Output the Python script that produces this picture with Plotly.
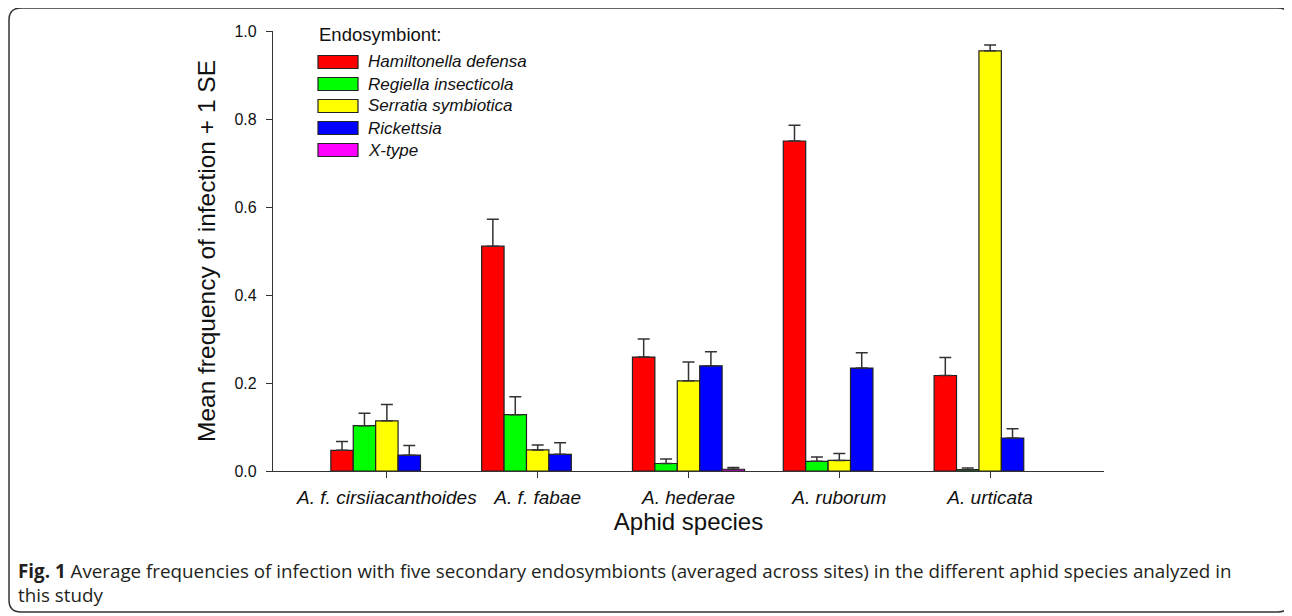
import plotly.graph_objects as go

species = ["A. f. cirsiiacanthoides", "A. f. fabae", "A. hederae", "A. ruborum", "A. urticata"]
symbionts = ["Hamiltonella defensa", "Regiella insecticola", "Serratia symbiotica", "Rickettsia", "X-type"]
colors = ["#FF0000", "#00FF00", "#FFFF00", "#0000FF", "#FF00FF"]

hamiltonella = [0.047, 0.511, 0.259, 0.750, 0.217]
hamiltonella_se = [0.020, 0.061, 0.041, 0.036, 0.041]
regiella = [0.103, 0.128, 0.017, 0.022, 0.003]
regiella_se = [0.028, 0.041, 0.010, 0.010, 0.004]
serratia = [0.114, 0.048, 0.205, 0.024, 0.955]
serratia_se = [0.037, 0.011, 0.043, 0.016, 0.013]
rickettsia = [0.036, 0.038, 0.239, 0.234, 0.075]
rickettsia_se = [0.022, 0.026, 0.032, 0.035, 0.021]
xtype = [None, None, 0.004, None, None]
xtype_se = [None, None, 0.004, None, None]

series = [hamiltonella, regiella, serratia, rickettsia, xtype]
errors = [hamiltonella_se, regiella_se, serratia_se, rickettsia_se, xtype_se]

# page offset of the figure (browser body margin) and target pixel layout
OFF = 8
L, R, T, B = 273, 1104, 31, 471
W, H = 1292 - OFF, 616 - OFF

def px(x):
    return (x - L) / (R - L)

def py(y):
    return (B - y) / (B - T)

fig = go.Figure()
for name, vals, err, col in zip(symbionts, series, errors, colors):
    fig.add_trace(go.Bar(
        x=species, y=vals, name=name, showlegend=False,
        marker=dict(color=col, line=dict(color="#222222", width=1.2)),
        error_y=dict(type="data", array=err, symmetric=False,
                     arrayminus=[0] * len(err), color="#333333",
                     thickness=1.5, width=6),
    ))

# legend (title, swatches and labels)
fig.add_annotation(xref="paper", yref="paper", x=px(317), y=py(35),
                   xanchor="left", yanchor="middle", showarrow=False,
                   text="Endosymbiont:", font=dict(size=18.5))
for i, (name, col) in enumerate(zip(symbionts, colors)):
    cy = 62 + 22 * i
    fig.add_shape(type="rect", xref="paper", yref="paper",
                  x0=px(318), x1=px(358), y0=py(cy - 6.5), y1=py(cy + 6.5),
                  fillcolor=col, line=dict(color="#222222", width=1.2))
    fig.add_annotation(xref="paper", yref="paper", x=px(366), y=py(cy),
                       xanchor="left", yanchor="middle", showarrow=False,
                       text=name, font=dict(size=17, style="italic"))

# rounded border around figure
x0, x1, y0, y1, r = 9, 1290, 8, 612, 12
path = (f"M {px(x0)},{py(y0 + r)} Q {px(x0)},{py(y0)} {px(x0 + r)},{py(y0)} "
        f"L {px(x1 - r)},{py(y0)} Q {px(x1)},{py(y0)} {px(x1)},{py(y0 + r)} "
        f"L {px(x1)},{py(y1 - r)} Q {px(x1)},{py(y1)} {px(x1 - r)},{py(y1)} "
        f"L {px(x0 + r)},{py(y1)} Q {px(x0)},{py(y1)} {px(x0)},{py(y1 - r)} Z")
fig.add_shape(type="path", path=path, xref="paper", yref="paper",
              line=dict(color="#333333", width=1.5), layer="below")

fig.add_annotation(
    xref="paper", yref="paper", x=px(16), y=py(583), xanchor="left", yanchor="middle",
    align="left", showarrow=False,
    text="<b>Fig. 1</b> Average frequencies of infection with five secondary endosymbionts "
         "(averaged across sites) in the different aphid species analyzed in<br>this study",
    font=dict(family="Open Sans, Noto Sans, sans-serif", size=18.8, color="#231F20"),
)

fig.update_layout(
    width=W, height=H,
    margin=dict(l=L - OFF, r=W - (R - OFF), t=T - OFF, b=H - (B - OFF), autoexpand=False),
    paper_bgcolor="white", plot_bgcolor="white",
    barmode="group", bargap=0.257, bargroupgap=0,
    font=dict(family="Arial, Liberation Sans, sans-serif", color="#111111"),
    showlegend=False,
    xaxis=dict(
        range=[-0.755, 4.755], showline=True, linecolor="#333333", linewidth=1.3,
        ticks="outside", ticklen=6, tickcolor="#333333", tickwidth=1.3,
        tickfont=dict(size=19, style="italic"), ticklabelstandoff=3,
        showgrid=False, zeroline=False,
        title=dict(text="Aphid species", font=dict(size=24), standoff=5),
    ),
    yaxis=dict(
        range=[0, 1.0], showline=True, linecolor="#333333", linewidth=1.3,
        ticks="outside", ticklen=6, tickcolor="#333333", tickwidth=1.3,
        tickvals=[0, 0.2, 0.4, 0.6, 0.8, 1.0], tickformat=".1f",
        tickfont=dict(size=16), ticklabelstandoff=6,
        showgrid=False, zeroline=False,
        title=dict(text="Mean frequency of infection + 1 SE", font=dict(size=24.5), standoff=11),
    ),
)

fig.write_html("out.html")
